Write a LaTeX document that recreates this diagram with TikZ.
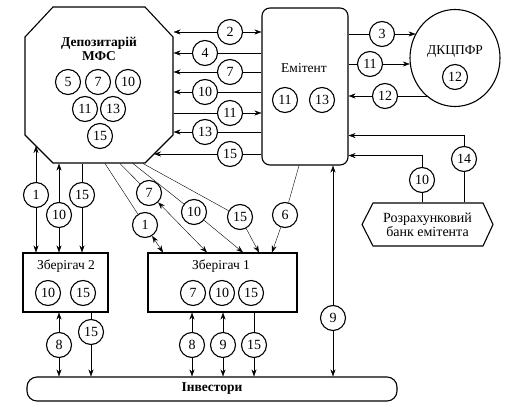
\documentclass[tikz,border=0pt]{standalone}
\usepackage{fontspec}
\setmainfont{Liberation Serif}
\usetikzlibrary{arrows.meta,shapes.geometric}
\pgfdeclarelayer{bg}
\pgfsetlayers{bg,main}
\begin{document}
\begin{tikzpicture}[x=1pt,y=-1pt,
  line width=1.1pt,
  >={Stealth[length=7pt,width=5pt]},
  num/.style={circle,draw,fill=white,inner sep=0pt,minimum size=25pt,font=\fontsize{14}{14}\selectfont},
  lbl/.style={font=\fontsize{13.5}{14}\selectfont,inner sep=0pt,align=center},
  blbl/.style={font=\bfseries\fontsize{13.5}{14}\selectfont,inner sep=0pt,align=center},
  box/.style={draw,rectangle,inner sep=0pt}]
\useasboundingbox (0,0) rectangle (511,409);

% Depozytarii (octagon)
\draw (53,7) -- (145,7) -- (173,37) -- (173,135) -- (145,163) -- (53,163) -- (25,135) -- (25,37) -- cycle;
\node[minimum width=148pt,minimum height=156pt,inner sep=0pt] (dep) at (99,85) {};
\node[blbl] (depT) at (99,49) {Депозитарій\\МФС};
\node[num] (d5) at (68,82) {5};
\node[num] (d7) at (98,82) {7};
\node[num] (d10) at (128,82) {10};
\node[num] (d11) at (85,109) {11};
\node[num] (d13) at (113,109) {13};
\node[num] (d15) at (100,136) {15};
\coordinate (p15) at (154,154);
\coordinate (p1) at (36,146);

% Emitent
\node[box,rounded corners=8pt,minimum width=86pt,minimum height=157pt] (em) at (305,86.5) {};
\node[lbl] (emT) at (304,68) {Емітент};
\node[num] (e11) at (285,100) {11};
\node[num] (e13) at (322,100) {13};

% DKTsPFR
\node[draw,ellipse,minimum width=90pt,minimum height=97pt,inner sep=0pt] (ell) at (455,58) {};
\node[lbl] (ellT) at (455,52) {ДКЦПФР};
\node[num] (l12) at (455,77) {12};

% Bank
\draw (362,224.5) -- (373,203) -- (483,203) -- (493,224.5) -- (483,246) -- (373,246) -- cycle;
\node[lbl,minimum width=131pt,minimum height=43pt,font=\fontsize{14}{13}\selectfont] (bank) at (427.5,224.5) {Розрахунковий\\банк емітента};

% Zberigach 2
\node[box,minimum width=85pt,minimum height=59pt] (zb2) at (65.5,282.5) {};
\node[lbl] (zb2T) at (66,266) {Зберігач 2};
\node[num] (z2a) at (48,293) {10};
\node[num] (z2b) at (83,293) {15};

% Zberigach 1
\node[box,minimum width=149pt,minimum height=59pt] (zb1) at (222.5,282.5) {};
\node[lbl] (zb1T) at (221,266) {Зберігач 1};
\node[num] (z1a) at (193,293) {7};
\node[num] (z1b) at (222,293) {10};
\node[num] (z1c) at (251,293) {15};

% Investory
\node[box,rounded corners=10pt,minimum width=370pt,minimum height=24pt,font=\bfseries\fontsize{13.5}{13}\selectfont] (inv) at (212,389) {Інвестори};

% connector labels
\node[num] (a2) at (230,32) {2};
\node[num] (a4) at (205,53) {4};
\node[num] (a7) at (230,72) {7};
\node[num] (a10) at (205,92) {10};
\node[num] (a11) at (230,113) {11};
\node[num] (a13) at (205,132) {13};
\node[num] (a15) at (230,154) {15};
\node[num] (b3) at (382,34) {3};
\node[num] (b11) at (370,64) {11};
\node[num] (b12) at (385,96) {12};
\node[num] (b10) at (422,180) {10};
\node[num] (b14) at (464,159) {14};
\node[num] (c9) at (333,318) {9};
\node[num] (c6) at (285,215) {6};
\node[num] (s1) at (36,195) {1};
\node[num] (s10) at (59,215) {10};
\node[num] (s15) at (82,195) {15};
\node[num] (t1) at (145,225) {1};
\node[num] (t7) at (149,193) {7};
\node[num] (t10) at (194,212) {10};
\node[num] (t15) at (240,217) {15};
\node[num] (u8) at (59,345) {8};
\node[num] (u15) at (91,332) {15};
\node[num] (v8) at (192,345) {8};
\node[num] (v9) at (223,345) {9};
\node[num] (v15) at (254,345) {15};

\begin{pgfonlayer}{bg}
\fill[white] (0,0) rectangle (511,409);
\draw[<->] (dep.east |- a2) -- (em.west |- a2);
\draw[->] (em.west |- a4) -- (dep.east |- a4);
\draw[->] (em.west |- a7) -- (dep.east |- a7);
\draw[->] (em.west |- a10) -- (dep.east |- a10);
\draw[->] (dep.east |- a11) -- (em.west |- a11);
\draw[->] (em.west |- a13) -- (dep.east |- a13);
\draw[->] (em.west |- a15) -- (p15);
\draw[->] (em.east |- b3) -- (b3 -| ell.148);
\draw[->] (em.east |- b11) -- (b11 -| ell.188);
\draw[->] (b12 -| ell.234) -- (em.east |- b12);
\draw[->] (b10 |- bank.north) |- ([yshift=10pt]em.south east);
\draw[->] (b14 |- bank.north) |- ([yshift=30pt]em.south east);
\draw[<->] (c9 |- em.south) -- (c9 |- inv.north);
\draw[->] ([xshift=-6pt]em.south) -- (c6) -- ([xshift=49.5pt]zb1.north);
\draw[<->] (p1) -- (s1 |- zb2.north);
\draw[<->] (s10 |- dep.south) -- (s10 |- zb2.north);
\draw[->] (s15 |- dep.south) -- (s15 |- zb2.north);
\draw[<->] ([xshift=6pt]dep.south) -- (t1) -- ([xshift=-59.5pt]zb1.north);
\draw[<->] ([xshift=21pt]dep.south) -- (t7) -- ([xshift=-15.5pt]zb1.north);
\draw[->] ([xshift=34pt]dep.south) -- (t10) -- ([xshift=20.5pt]zb1.north);
\draw[->] ([xshift=44pt]dep.south) -- (t15) -- ([xshift=36.5pt]zb1.north);
\draw[<->] (u8 |- zb2.south) -- (u8 |- inv.north);
\draw[->] (u15 |- zb2.south) -- (u15 |- inv.north);
\draw[<->] (v8 |- zb1.south) -- (v8 |- inv.north);
\draw[<->] (v9 |- zb1.south) -- (v9 |- inv.north);
\draw[->] (v15 |- zb1.south) -- (v15 |- inv.north);
\end{pgfonlayer}
\end{tikzpicture}
\end{document}
